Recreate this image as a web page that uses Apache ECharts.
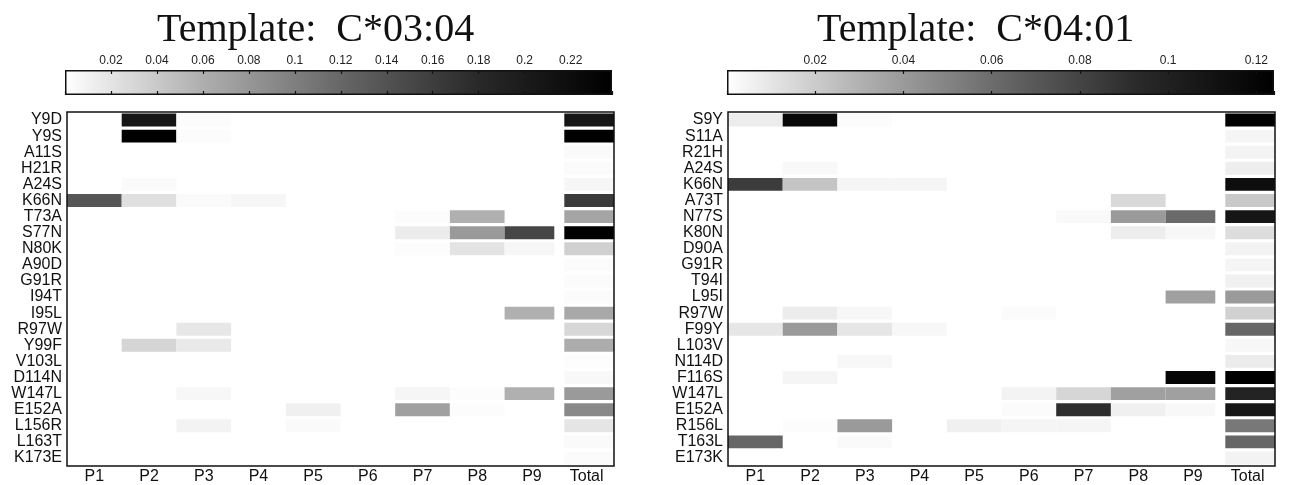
<!DOCTYPE html>
<html>
<head>
<meta charset="utf-8">
<script src="https://cdn.jsdelivr.net/npm/echarts@6/dist/echarts.min.js"></script>
<style>
  html, body { margin: 0; padding: 0; background: #fff; }
  #chart { width: 1290px; height: 485px; }
</style>
</head>
<body>
<div id="chart"></div>
<script>
// columns (pocket positions + total)
const cols = ['P1', 'P2', 'P3', 'P4', 'P5', 'P6', 'P7', 'P8', 'P9', 'Total']

// Template C*03:04
const rowsA = ['Y9D', 'Y9S', 'A11S', 'H21R', 'A24S', 'K66N', 'T73A', 'S77N', 'N80K', 'A90D', 'G91R',
  'I94T', 'I95L', 'R97W', 'Y99F', 'V103L', 'D114N', 'W147L', 'E152A', 'L156R', 'L163T', 'K173E']
const valsA = [
  [0, 0.208, 0.002, 0, 0, 0, 0, 0, 0, 0.208],
  [0, 0.238, 0.002, 0, 0, 0, 0, 0, 0, 0.238],
  [0, 0, 0, 0, 0, 0, 0, 0, 0, 0.004],
  [0, 0, 0, 0, 0, 0, 0, 0, 0, 0.003],
  [0, 0.004, 0, 0, 0, 0, 0, 0, 0, 0.007],
  [0.136, 0.023, 0.004, 0.007, 0, 0, 0, 0, 0, 0.162],
  [0, 0, 0, 0, 0, 0, 0.002, 0.059, 0, 0.068],
  [0, 0, 0, 0, 0, 0, 0.0145, 0.077, 0.152, 0.236],
  [0, 0, 0, 0, 0, 0, 0.002, 0.021, 0.007, 0.035],
  [0, 0, 0, 0, 0, 0, 0, 0, 0, 0.003],
  [0, 0, 0, 0, 0, 0, 0, 0, 0, 0.003],
  [0, 0, 0, 0, 0, 0, 0, 0, 0, 0.003],
  [0, 0, 0, 0, 0, 0, 0, 0, 0.059, 0.065],
  [0, 0, 0.018, 0, 0, 0, 0, 0, 0, 0.030],
  [0, 0.031, 0.016, 0, 0, 0, 0, 0, 0, 0.062],
  [0, 0, 0, 0, 0, 0, 0, 0, 0, 0.002],
  [0, 0, 0, 0, 0, 0, 0, 0, 0, 0.005],
  [0, 0, 0.006, 0, 0, 0, 0.007, 0.002, 0.059, 0.077],
  [0, 0, 0, 0, 0.0115, 0, 0.072, 0.002, 0, 0.091],
  [0, 0, 0.009, 0, 0.004, 0, 0, 0, 0, 0.019],
  [0, 0, 0, 0, 0, 0, 0, 0, 0, 0.004],
  [0, 0, 0, 0, 0, 0, 0, 0, 0, 0.003]
]
const maxA = 0.238

// Template C*04:01
const rowsB = ['S9Y', 'S11A', 'R21H', 'A24S', 'K66N', 'A73T', 'N77S', 'K80N', 'D90A', 'G91R', 'T94I',
  'L95I', 'R97W', 'F99Y', 'L103V', 'N114D', 'F116S', 'W147L', 'E152A', 'R156L', 'T163L', 'E173K']
const valsB = [
  [0.0072, 0.118, 0.0012, 0, 0, 0, 0, 0, 0, 0.124],
  [0, 0, 0, 0, 0, 0, 0, 0, 0, 0.0037],
  [0, 0, 0, 0, 0, 0, 0, 0, 0, 0.0045],
  [0, 0.0026, 0, 0, 0, 0, 0, 0, 0, 0.0065],
  [0.084, 0.0227, 0.0037, 0.0037, 0, 0, 0, 0, 0, 0.114],
  [0, 0, 0, 0, 0, 0, 0, 0.0149, 0, 0.021],
  [0, 0, 0, 0, 0, 0, 0.0023, 0.040, 0.061, 0.108],
  [0, 0, 0, 0, 0, 0, 0, 0.0068, 0.003, 0.0133],
  [0, 0, 0, 0, 0, 0, 0, 0, 0, 0.0048],
  [0, 0, 0, 0, 0, 0, 0, 0, 0, 0.0037],
  [0, 0, 0, 0, 0, 0, 0, 0, 0, 0.0058],
  [0, 0, 0, 0, 0, 0, 0, 0, 0.0375, 0.040],
  [0, 0.0072, 0.003, 0, 0, 0.0015, 0, 0, 0, 0.018],
  [0.0098, 0.040, 0.0098, 0.003, 0, 0, 0, 0, 0, 0.063],
  [0, 0, 0, 0, 0, 0, 0, 0, 0, 0.003],
  [0, 0, 0.003, 0, 0, 0, 0, 0, 0, 0.0076],
  [0, 0.0037, 0, 0, 0, 0, 0, 0, 0.120, 0.124],
  [0, 0, 0, 0, 0, 0.0045, 0.016, 0.0375, 0.0375, 0.098],
  [0, 0, 0, 0, 0, 0.0015, 0.091, 0.0058, 0.0026, 0.108],
  [0, 0.0012, 0.040, 0, 0.0058, 0.0037, 0.0037, 0, 0, 0.055],
  [0.063, 0, 0.0019, 0, 0, 0, 0, 0, 0, 0.063],
  [0, 0, 0, 0, 0, 0, 0, 0, 0, 0.0048]
]
const maxB = 0.124

const tickStep = 0.02
// grey colormap, slightly darker than linear
const greys = ['#ffffff', '#afafaf', '#686868', '#2a2a2a', '#000000']

const toCells = vals => {
  const out = []
  vals.forEach((row, yi) => row.forEach((v, xi) => { if (v > 0) out.push([xi, yi, v]) }))
  return out
}

const renderCell = (params, api) => {
  const xi = api.value(0)
  const p = api.coord([xi, api.value(1)])
  const size = api.size([1, 1])
  let x = p[0] - size[0] / 2
  let w = size[0]
  // white band between P9 and Total
  if (xi === 8) w -= 5
  if (xi === 9) { x += 5; w -= 5 }
  return {
    type: 'rect',
    shape: { x: x, y: p[1] - size[1] / 2 + 1.6, width: w, height: size[1] - 3.2 },
    style: { fill: api.visual('color') }
  }
}

const font = 'Liberation Sans'
const heatGrid = left => ({
  left: left, top: 112, width: 547, height: 354,
  show: true, borderColor: '#111', borderWidth: 1.5, backgroundColor: 'transparent'
})
const barGrid = left => ({
  left: left, top: 70, width: 547, height: 25
})

const catX = gi => ({
  type: 'category', gridIndex: gi, data: cols,
  axisLine: { show: false }, axisTick: { show: false },
  axisLabel: { interval: 0, color: '#111', fontSize: 16, fontFamily: font, margin: 3 },
  splitLine: { show: false }
})
const catY = (gi, rows) => ({
  type: 'category', gridIndex: gi, data: rows, inverse: true,
  axisLine: { show: false }, axisTick: { show: false },
  axisLabel: { interval: 0, color: '#111', fontSize: 16, fontFamily: font, margin: 5 },
  splitLine: { show: false }
})
const barX = (gi, max, pos, labels) => ({
  type: 'value', gridIndex: gi, position: pos, min: 0, max: max, interval: tickStep, z: 10,
  axisLine: { show: false },
  axisTick: { show: true, inside: true, length: 4, lineStyle: { color: '#111', width: 1.2 } },
  axisLabel: { show: labels, showMinLabel: false, showMaxLabel: false,
    color: '#222', fontSize: 12, fontFamily: font, margin: 3 },
  splitLine: { show: false }
})
const barY = gi => ({
  type: 'category', gridIndex: gi, data: [''],
  axisLine: { show: false }, axisTick: { show: false }, axisLabel: { show: false }
})
const colorBar = (xi, yi, max) => ({
  type: 'bar', xAxisIndex: xi, yAxisIndex: yi, data: [max],
  barWidth: '100%', silent: true,
  itemStyle: {
    color: new echarts.graphic.LinearGradient(0, 0, 1, 0,
      greys.map((c, i) => ({ offset: i / (greys.length - 1), color: c }))),
    borderColor: '#111', borderWidth: 1.5
  }
})

const chart = echarts.init(document.getElementById('chart'))
chart.setOption({
  animation: false,
  backgroundColor: '#fff',
  title: [
    { text: 'Template:  C*03:04', left: 152, top: 5,
      textStyle: { fontFamily: 'Liberation Serif', fontSize: 40, fontWeight: 'normal', color: '#111' } },
    { text: 'Template:  C*04:01', left: 812, top: 5,
      textStyle: { fontFamily: 'Liberation Serif', fontSize: 40, fontWeight: 'normal', color: '#111' } }
  ],
  grid: [heatGrid(67), heatGrid(728), barGrid(65), barGrid(727)],
  xAxis: [catX(0), catX(1),
    barX(2, maxA, 'top', true), barX(3, maxB, 'top', true),
    barX(2, maxA, 'bottom', false), barX(3, maxB, 'bottom', false)],
  yAxis: [catY(0, rowsA), catY(1, rowsB), barY(2), barY(3)],
  visualMap: [
    { show: false, type: 'continuous', min: 0, max: maxA, dimension: 2, seriesIndex: 0, inRange: { color: greys } },
    { show: false, type: 'continuous', min: 0, max: maxB, dimension: 2, seriesIndex: 1, inRange: { color: greys } }
  ],
  series: [
    { type: 'custom', xAxisIndex: 0, yAxisIndex: 0, z: -1, renderItem: renderCell, data: toCells(valsA) },
    { type: 'custom', xAxisIndex: 1, yAxisIndex: 1, z: -1, renderItem: renderCell, data: toCells(valsB) },
    colorBar(2, 2, maxA),
    colorBar(3, 3, maxB)
  ]
})
</script>
</body>
</html>
